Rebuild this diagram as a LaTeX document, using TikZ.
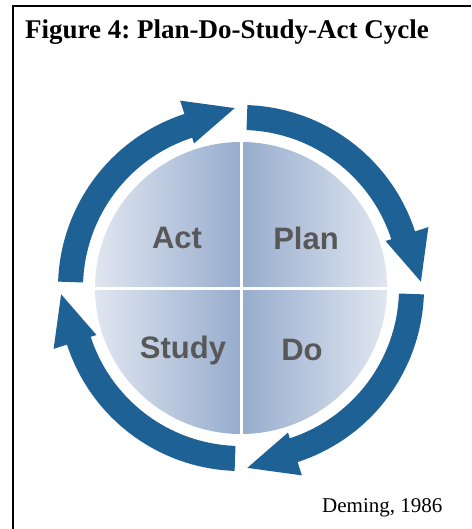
\documentclass[tikz,border=0pt]{standalone}
\usepackage{fontspec}
\setmainfont{Liberation Serif}
\newfontfamily\labelfont{Liberation Sans}
\frenchspacing
\definecolor{cycblue}{RGB}{30,97,148}
\definecolor{qlight}{RGB}{224,230,240}
\definecolor{qdark}{RGB}{150,172,205}
\definecolor{labgray}{RGB}{88,88,88}
\tikzset{
  quad/.style={draw=none},
  qlabel/.style={font=\labelfont\bfseries\fontsize{31}{33}\selectfont, text=labgray, inner sep=0pt},
  cycarrow/.style={fill=cycblue, draw=none},
}
\begin{document}
\begin{tikzpicture}[x=1pt,y=1pt]
\useasboundingbox (0,0) rectangle (471,-529);
\fill[white] (0,0) rectangle (471,-529);
% frame (cropped at right and bottom)
\draw[line width=2pt] (13,-529) -- (13,-6) -- (471,-6);
% title
\node[anchor=base west, inner sep=0pt, font=\bfseries\fontsize{27}{30}\selectfont] (title) at (25,-39) {Figure 4: Plan-Do-Study-Act Cycle};
\node[anchor=base west, inner sep=0pt, font=\fontsize{21}{24}\selectfont] (src) at (322,-512) {Deming, 1986};
\begin{scope}[shift={(241,-288)}]
  % quadrants
  \shade[quad, left color=qlight, right color=qdark] (0,0) -- (180:146pt) arc[start angle=180, end angle=90, radius=146pt] -- cycle;
  \shade[quad, left color=qdark, right color=qlight] (0,0) -- (90:146pt) arc[start angle=90, end angle=0, radius=146pt] -- cycle;
  \shade[quad, left color=qlight, right color=qdark] (0,0) -- (180:146pt) arc[start angle=180, end angle=270, radius=146pt] -- cycle;
  \shade[quad, left color=qdark, right color=qlight] (0,0) -- (270:146pt) arc[start angle=270, end angle=360, radius=146pt] -- cycle;
  \draw[white, line width=3pt] (-150,0) -- (150,0);
  \draw[white, line width=3pt] (0,150) -- (0,-150);
  % labels
  \node[qlabel] (act) at (-64,50) {Act};
  \node[qlabel] (plan) at (65,50) {Plan};
  \node[qlabel] (study) at (-58,-62) {Study};
  \node[qlabel] (do) at (61,-62) {Do};
  % arrows
  \begin{scope}
    \clip (-200,-200) rectangle (188,200);
    \foreach \t in {90,0,-90,180}{
      \pgfmathsetmacro{\a}{\t-2}
      \pgfmathsetmacro{\b}{\t-72}
      \pgfmathsetmacro{\c}{\t-88}
      \fill[cycarrow] (\a:183pt) arc[start angle=\a, end angle=\b, radius=183pt]
        -- (\b:197pt) -- (\c:180pt) -- (\b:152pt) -- (\b:158pt)
        arc[start angle=\b, end angle=\a, radius=158pt] -- cycle;
    }
  \end{scope}
\end{scope}
\end{tikzpicture}
\end{document}
